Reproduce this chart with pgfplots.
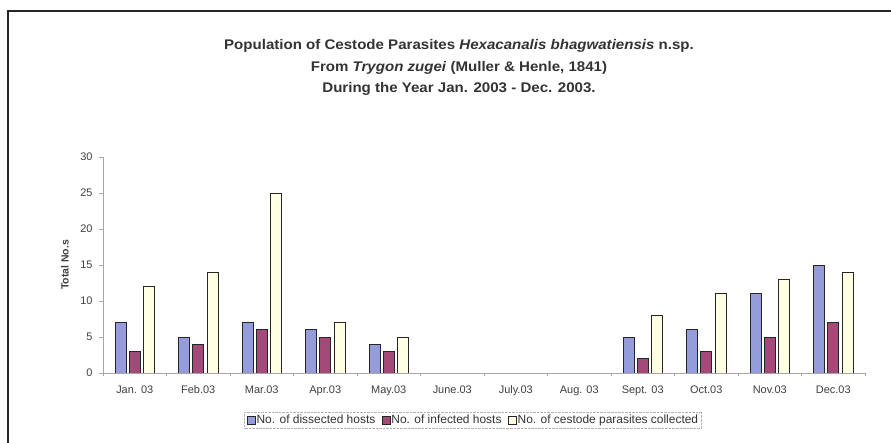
\documentclass[border=0pt]{standalone}
\usepackage{fontspec}
\setmainfont{Liberation Sans}
\usepackage{pgfplots}
\pgfplotsset{compat=1.18}
\definecolor{cblue}{RGB}{148,156,220}
\definecolor{cplum}{RGB}{163,74,120}
\definecolor{civory}{RGB}{255,255,228}
\pgfplotsset{mybar/.style={draw=black!85, line width=0.9bp,
  legend image code/.code={\draw[##1, line width=0.7bp] (0bp,-4bp) rectangle (8bp,4bp);}}}
\begin{document}
\begin{tikzpicture}
\useasboundingbox (0bp,0bp) rectangle (891bp,443bp);
\fill[white] (0bp,0bp) rectangle (891bp,443bp);
\draw[line width=1.8bp, black!85] (8.3bp,-10bp) -- (8.3bp,432.3bp) -- (900bp,432.3bp);
\node[font=\bfseries\fontsize{14}{21.7}\selectfont, text=black!80, align=center, transform shape, xscale=1.08] at (459bp,375.3bp)
 {Population of Cestode Parasites \textit{Hexacanalis bhagwatiensis} n.sp.\\
  From \textit{Trygon zugei} (Muller \& Henle, 1841)\\
  During the Year Jan. 2003 - Dec. 2003.};
\begin{axis}[
  at={(103bp,70bp)}, anchor=south west, scale only axis,
  width=762bp, height=216bp,
  xmin=-0.5, xmax=11.5, ymin=0, ymax=30,
  ybar=3.2bp, bar width=11bp,
  axis lines*=left, axis line style={gray!70, line width=0.8bp},
  xtick={0,...,11},
  xticklabels={Jan. 03, Feb.03, Mar.03, Apr.03, May.03, June.03, July.03, Aug. 03, Sept. 03, Oct.03, Nov.03, Dec.03},
  major x tick style={draw=none},
  minor xtick={-0.5,0.5,...,11.5},
  ytick={0,5,...,30},
  tick style={gray!70, line width=0.8bp},
  tick align=outside, major tick length=4bp, minor tick length=3bp,
  ticklabel style={font=\fontsize{11}{13}\selectfont, text=black!75},
  /pgf/number format/assume math mode=true,
  xticklabel style={yshift=-5bp},
  yticklabel style={xshift=-3bp},
  ylabel={Total No.s},
  ylabel style={at={(axis description cs:-0.0499,0.5)}, anchor=center,
    font=\bfseries\fontsize{10.5}{12}\selectfont, text=black!75},
  legend style={at={(axis description cs:0.4856,-0.2176)}, anchor=center,
    legend columns=3, draw=gray!60, densely dotted, font=\fontsize{12}{14}\selectfont,
    inner sep=2bp, text=black!80,
    nodes={inner sep=1.2bp},
    /tikz/every even column/.append style={column sep=5bp}},
  legend cell align=left,
]
\addplot[mybar, fill=cblue] coordinates {(0,7)(1,5)(2,7)(3,6)(4,4)(8,5)(9,6)(10,11)(11,15)};
\addplot[mybar, fill=cplum] coordinates {(0,3)(1,4)(2,6)(3,5)(4,3)(8,2)(9,3)(10,5)(11,7)};
\addplot[mybar, fill=civory] coordinates {(0,12)(1,14)(2,25)(3,7)(4,5)(8,8)(9,11)(10,13)(11,14)};
\legend{No. of dissected hosts, No. of infected hosts, No. of cestode parasites collected}
\end{axis}
\end{tikzpicture}
\end{document}
